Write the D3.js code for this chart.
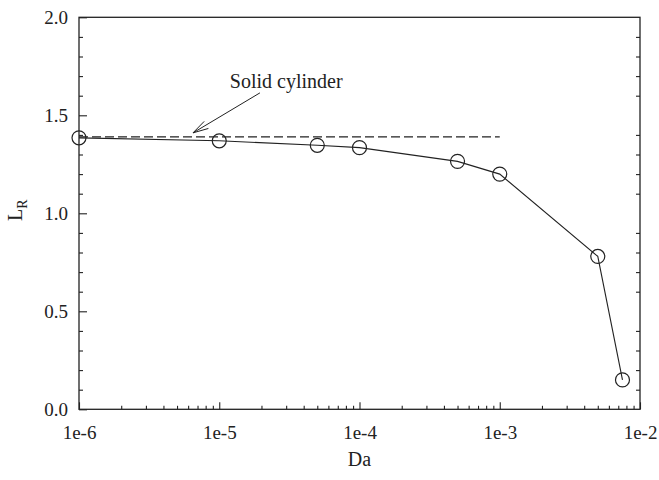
<!DOCTYPE html>
<html>
<head>
<meta charset="utf-8">
<script src="https://cdn.jsdelivr.net/npm/d3@7"></script>
<style>
  html, body { margin: 0; padding: 0; background: #fff; }
  svg { display: block; }
  text { font-family: "Liberation Serif", "Times New Roman", serif; fill: #222; }
</style>
</head>
<body>
<svg id="chart" width="659" height="480"></svg>
<script>
// Darcy number vs. recirculation length
const daValues = [1e-6, 1e-5, 5e-5, 1e-4, 5e-4, 1e-3, 5e-3, 7.5e-3];
const lrValues = [1.385, 1.37, 1.347, 1.335, 1.265, 1.20, 0.78, 0.15];

// Reference level for the solid cylinder
const solidRange = [1e-6, 1e-3];
const solidLR = 1.39;

const xTickValues = [1e-6, 1e-5, 1e-4, 1e-3, 1e-2];
const xTickLabels = ["1e-6", "1e-5", "1e-4", "1e-3", "1e-2"];
const yTickValues = [0, 0.5, 1.0, 1.5, 2.0];
const yTickLabels = ["0.0", "0.5", "1.0", "1.5", "2.0"];

const margin = { left: 79, top: 17.3, right: 19, bottom: 70.7 };
const W = 659, H = 480;
const iw = W - margin.left - margin.right;
const ih = H - margin.top - margin.bottom;
const ink = "#222";

const svg = d3.select("#chart");
const g = svg.append("g").attr("transform", `translate(${margin.left},${margin.top})`);

const x = d3.scaleLog().domain([1e-6, 1e-2]).range([0, iw]);
const y = d3.scaleLinear().domain([0, 2]).range([ih, 0]);

// minor tick positions
const xMinor = [];
for (let e = -6; e < -2; e++) for (let m = 2; m <= 9; m++) xMinor.push(m * Math.pow(10, e));
const yMinor = d3.range(1, 20).map(i => i / 10).filter(v => Math.abs(v * 2 - Math.round(v * 2)) > 1e-9);

// bottom axis: decades (major) + 2..9 (minor), ticks pointing inward
g.append("g").attr("transform", `translate(0,${ih})`)
  .call(d3.axisBottom(x).tickValues(xMinor).tickSize(-3.5).tickFormat(""))
  .call(a => a.select(".domain").remove());
const xAx = g.append("g").attr("transform", `translate(0,${ih})`)
  .call(d3.axisBottom(x).tickValues(xTickValues).tickSize(-7).tickPadding(16)
    .tickFormat((d, i) => xTickLabels[i]))
  .call(a => a.select(".domain").remove());
xAx.selectAll("text").attr("font-size", 19).attr("font-family", "Liberation Serif").attr("fill", ink);

// left axis
g.append("g")
  .call(d3.axisLeft(y).tickValues(yMinor).tickSize(-4).tickFormat(""))
  .call(a => a.select(".domain").remove());
const yAx = g.append("g")
  .call(d3.axisLeft(y).tickValues(yTickValues).tickSize(-8).tickPadding(11)
    .tickFormat((d, i) => yTickLabels[i]))
  .call(a => a.select(".domain").remove());
yAx.selectAll("text").attr("font-size", 19).attr("font-family", "Liberation Serif").attr("fill", ink);

// right axis: minor ticks only
g.append("g").attr("transform", `translate(${iw},0)`)
  .call(d3.axisRight(y).tickValues(yMinor).tickSize(-4).tickFormat(""))
  .call(a => a.select(".domain").remove());

g.selectAll(".tick line").attr("stroke", ink).attr("stroke-width", 1.1);

// frame
g.append("rect").attr("x", 0).attr("y", 0).attr("width", iw).attr("height", ih)
  .attr("fill", "none").attr("stroke", ink).attr("stroke-width", 1.3);

// solid cylinder reference (dashed)
g.append("line")
  .attr("x1", x(solidRange[0])).attr("x2", x(solidRange[1]))
  .attr("y1", y(solidLR)).attr("y2", y(solidLR))
  .attr("stroke", ink).attr("stroke-width", 1.1).attr("stroke-dasharray", "9,4");

// porous cylinder curve
const pts = daValues.map((d, i) => [d, lrValues[i]]);
g.append("path").datum(pts)
  .attr("d", d3.line().x(d => x(d[0])).y(d => y(d[1])))
  .attr("fill", "none").attr("stroke", ink).attr("stroke-width", 1.1);
g.selectAll("circle.pt").data(pts).join("circle")
  .attr("class", "pt")
  .attr("cx", d => x(d[0])).attr("cy", d => y(d[1])).attr("r", 7)
  .attr("fill", "none").attr("stroke", ink).attr("stroke-width", 1.2);

// annotation with open arrowhead
const tip = [x(6.5e-6), y(solidLR) - 4];
const tail = [x(1.95e-5), y(solidLR) - 44];
g.append("line").attr("x1", tail[0]).attr("y1", tail[1]).attr("x2", tip[0]).attr("y2", tip[1])
  .attr("stroke", ink).attr("stroke-width", 1);
const ang = Math.atan2(tail[1] - tip[1], tail[0] - tip[0]);
const hl = 16, ha = 0.26;
const head = [
  [tip[0] + hl * Math.cos(ang - ha), tip[1] + hl * Math.sin(ang - ha)],
  tip,
  [tip[0] + hl * Math.cos(ang + ha), tip[1] + hl * Math.sin(ang + ha)]
];
g.append("path").attr("d", d3.line()(head)).attr("fill", "none")
  .attr("stroke", ink).attr("stroke-width", 1);
g.append("text").attr("x", x(3e-5)).attr("y", 71).attr("text-anchor", "middle")
  .attr("font-size", 20).text("Solid cylinder");

// axis titles
svg.append("text").attr("x", margin.left + x(1e-4)).attr("y", 466)
  .attr("text-anchor", "middle").attr("font-size", 20).text("Da");
const yl = svg.append("text")
  .attr("transform", `translate(22,${margin.top + ih / 2 - 3}) rotate(-90)`)
  .attr("text-anchor", "middle").attr("font-size", 20);
yl.append("tspan").text("L");
yl.append("tspan").attr("font-size", 14).attr("dy", 5).text("R");
</script>
</body>
</html>
